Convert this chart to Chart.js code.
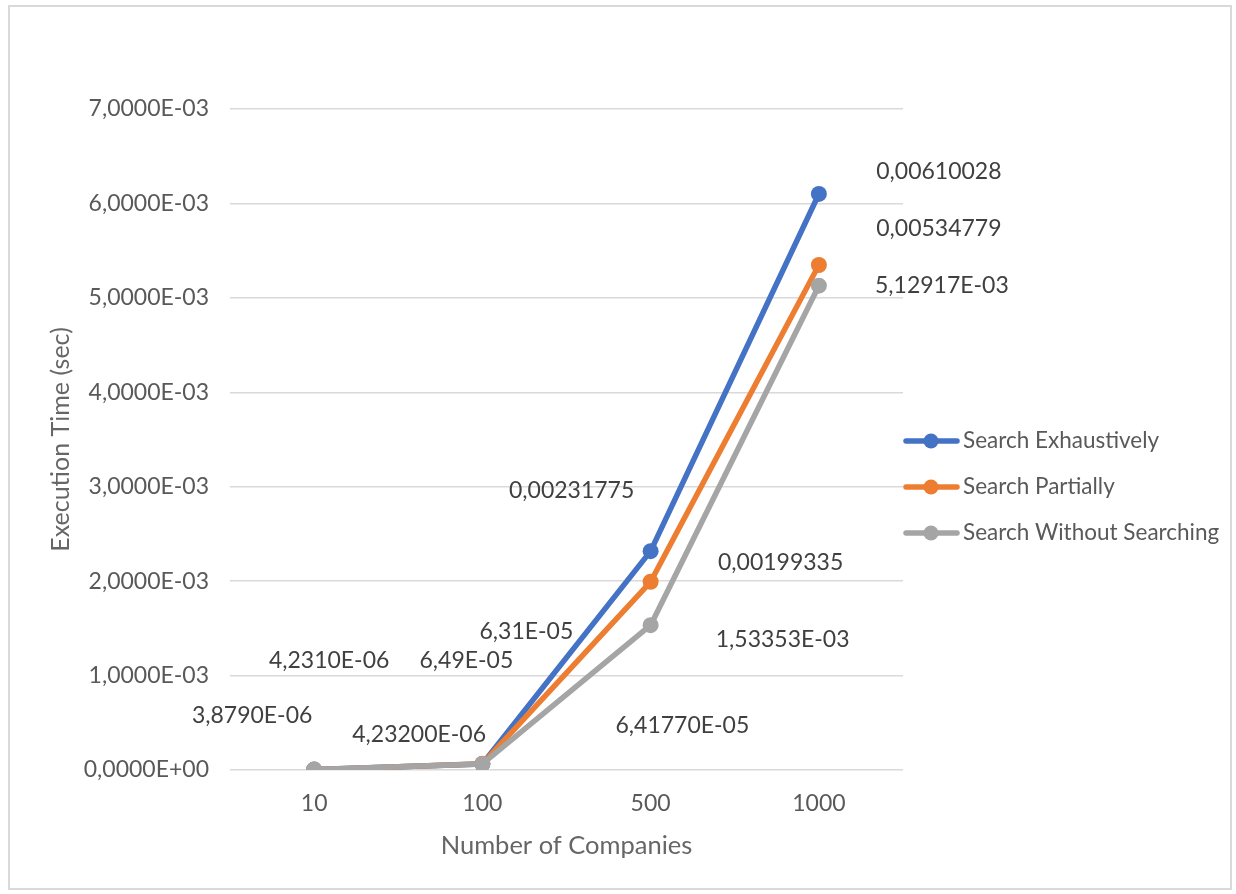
<!DOCTYPE html>
<html>
<head>
<meta charset="utf-8">
<script src="https://cdn.jsdelivr.net/npm/chart.js@4/dist/chart.umd.min.js"></script>
<style>
  html, body { margin: 0; padding: 0; background: #ffffff; }
  #frame { position: absolute; left: 8px; top: 5px; width: 1224px; height: 885px; border: 2px solid #d9d9d9; box-sizing: border-box; }
  #wrap { position: absolute; left: 0; top: 0; width: 1236px; height: 894px; }
</style>
</head>
<body>
<div id="frame"></div>
<div id="wrap"><canvas id="chart" width="1236" height="894"></canvas></div>
<script>
// Categories on the x axis
const companies = ['10', '100', '500', '1000'];

// Execution times in seconds
const exhaustive    = [4.2310e-6, 6.31e-5, 0.00231775, 0.00610028];
const partial       = [3.8790e-6, 6.49e-5, 0.00199335, 0.00534779];
const withoutSearch = [4.23200e-6, 6.41770e-5, 1.53353e-3, 5.12917e-3];

// Number format of each value label ('e' = scientific, 'f' = fixed, digits after)
const exhaustiveFormats    = ['e4', 'e2', 'f8', 'f8'];
const partialFormats       = ['e4', 'e2', 'f8', 'f8'];
const withoutSearchFormats = ['e5', 'e5', 'e5', 'e5'];

// Y axis range
const yMin = 0;
const yMax = 0.007;
const yStep = 0.001;

// Value label offsets from their point, in pixels
const exhaustiveOffsets    = [[15, -109], [44, -132], [-79, -61], [120, -22]];
const partialOffsets       = [[-62, -54], [-16, -103], [130, -19], [120, -36]];
const withoutSearchOffsets = [[105, -35], [200, -38], [132, 14], [123, 0]];

const FONT = 'Lato, "Open Sans", sans-serif';

// Decimal comma formatting, e.g. 4,2310E-06 or 0,00231775
function formatValue(v, f) {
  const n = parseInt(f.slice(1), 10);
  if (f[0] === 'f') return v.toFixed(n).replace('.', ',');
  const parts = v.toExponential(n).split('e');
  let exp = parts[1];
  const sign = exp[0] === '-' ? '-' : '+';
  exp = exp.replace(/[+-]/, '');
  if (exp.length < 2) exp = '0' + exp;
  return parts[0].replace('.', ',') + 'E' + sign + exp;
}

const series = [
  { label: 'Search Exhaustively', data: exhaustive, color: '#4472c4', formats: exhaustiveFormats, offsets: exhaustiveOffsets, order: 2 },
  { label: 'Search Partially', data: partial, color: '#ed7d31', formats: partialFormats, offsets: partialOffsets, order: 1 },
  { label: 'Search Without Searching', data: withoutSearch, color: '#a5a5a5', formats: withoutSearchFormats, offsets: withoutSearchOffsets, order: 0 }
];

const valueLabels = {
  id: 'valueLabels',
  afterDatasetsDraw(chart) {
    const ctx = chart.ctx;
    ctx.save();
    ctx.font = '23px ' + FONT;
    ctx.fillStyle = '#404040';
    ctx.textAlign = 'center';
    ctx.textBaseline = 'middle';
    chart.data.datasets.forEach((ds, i) => {
      const meta = chart.getDatasetMeta(i);
      meta.data.forEach((pt, j) => {
        const off = ds.labelOffsets[j];
        ctx.fillText(formatValue(ds.data[j], ds.labelFormats[j]), pt.x + off[0], pt.y + off[1]);
      });
    });
    ctx.restore();
  }
};

const sideLegend = {
  id: 'sideLegend',
  afterDraw(chart) {
    const ctx = chart.ctx;
    const x0 = chart.chartArea.right;
    const rowY = [441, 487, 533];
    ctx.save();
    ctx.font = '22.5px ' + FONT;
    ctx.textBaseline = 'middle';
    ctx.textAlign = 'left';
    chart.data.datasets.forEach((ds, i) => {
      const y = rowY[i];
      ctx.strokeStyle = ds.borderColor;
      ctx.lineWidth = 5.5;
      ctx.lineCap = 'round';
      ctx.beginPath();
      ctx.moveTo(x0 + 3, y);
      ctx.lineTo(x0 + 54, y);
      ctx.stroke();
      ctx.fillStyle = ds.borderColor;
      ctx.beginPath();
      ctx.arc(x0 + 28, y, 7.5, 0, Math.PI * 2);
      ctx.fill();
      ctx.fillStyle = '#595959';
      ctx.fillText(ds.label, x0 + 60, y);
    });
    ctx.restore();
  }
};

new Chart(document.getElementById('chart'), {
  type: 'line',
  data: {
    labels: companies,
    datasets: series.map(s => ({
      label: s.label,
      data: s.data,
      borderColor: s.color,
      backgroundColor: s.color,
      pointBackgroundColor: s.color,
      pointBorderColor: s.color,
      borderWidth: 5.5,
      pointRadius: 8,
      pointBorderWidth: 0,
      borderJoinStyle: 'round',
      borderCapStyle: 'round',
      tension: 0,
      fill: false,
      order: s.order,
      labelFormats: s.formats,
      labelOffsets: s.offsets
    }))
  },
  options: {
    responsive: false,
    animation: false,
    layout: { padding: { left: 0, top: 109, right: 333, bottom: 0 } },
    plugins: {
      legend: { display: false },
      tooltip: { enabled: false }
    },
    scales: {
      x: {
        offset: true,
        grid: { display: false, drawTicks: false },
        border: { display: false },
        ticks: { color: '#595959', font: { family: FONT, size: 23 }, padding: 20 },
        title: { display: true, text: 'Number of Companies', color: '#666666', font: { family: FONT, size: 25.5 }, padding: { top: 0, bottom: 33 } },
        afterFit(scale) { scale.height = 124; }
      },
      y: {
        min: yMin,
        max: yMax,
        grid: { color: '#d9d9d9', lineWidth: 1.5, drawTicks: false },
        border: { display: false },
        ticks: {
          stepSize: yStep,
          color: '#595959',
          font: { family: FONT, size: 23 },
          padding: 21,
          callback: v => formatValue(v, 'e4')
        },
        title: { display: true, text: 'Execution Time (sec)', color: '#666666', font: { family: FONT, size: 25 }, padding: { top: 46, bottom: 0 } },
        afterFit(scale) { scale.width = 230; }
      }
    }
  },
  plugins: [valueLabels, sideLegend]
});
</script>
</body>
</html>
